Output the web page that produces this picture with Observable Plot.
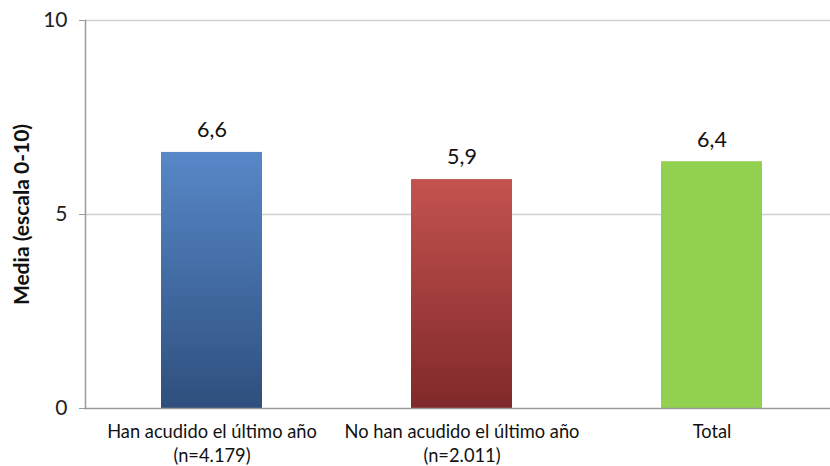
<!DOCTYPE html>
<html>
<head>
<meta charset="utf-8">
<script src="https://cdn.jsdelivr.net/npm/d3@7"></script>
<script src="https://cdn.jsdelivr.net/npm/@observablehq/plot@0.6"></script>
<style>
  html, body { margin: 0; padding: 0; background: #fff; }
  svg { font-family: Lato, "Open Sans", sans-serif; }
</style>
</head>
<body>
<div id="chart"></div>
<script>
const categories = ["Han acudido el último año", "No han acudido el último año", "Total"];
const sampleLabels = ["(n=4.179)", "(n=2.011)", ""];
const values = [6.6, 5.9, 6.36];
const fills = ["url(#gBlue)", "url(#gRed)", "#92d050"];
const yTicks = [0, 5, 10];

const data = categories.map((c, i) => ({cat: c, value: values[i], fill: fills[i]}));
const xLabel = new Map(categories.map((c, i) => [c, sampleLabels[i] ? c + "\n" + sampleLabels[i] : c]));
const fmt = v => (Math.round(v * 10) / 10).toFixed(1).replace(".", ",");

function defs() {
  const ns = "http://www.w3.org/2000/svg";
  const d = document.createElementNS(ns, "defs");
  const grads = [["gBlue", "#5788c8", "#2e4f7d"], ["gRed", "#c3534f", "#80292a"]];
  for (const [id, top, bot] of grads) {
    const g = document.createElementNS(ns, "linearGradient");
    g.setAttribute("id", id);
    g.setAttribute("x1", "0"); g.setAttribute("y1", "0");
    g.setAttribute("x2", "0"); g.setAttribute("y2", "1");
    for (const [off, col] of [["0", top], ["1", bot]]) {
      const s = document.createElementNS(ns, "stop");
      s.setAttribute("offset", off);
      s.setAttribute("stop-color", col);
      g.appendChild(s);
    }
    d.appendChild(g);
  }
  return d;
}

const chart = Plot.plot({
  width: 830,
  height: 466,
  marginLeft: 85,
  marginRight: 0,
  marginTop: 20,
  marginBottom: 58,
  style: {fontFamily: "Lato, 'Open Sans', sans-serif", background: "#fff"},
  x: {domain: categories, paddingInner: 0.597, paddingOuter: 0.2855, align: 0.524, label: null},
  y: {domain: [0, 10], label: null},
  color: {type: "identity"},
  marks: [
    defs,
    Plot.ruleY(yTicks.filter(t => t > 0), {stroke: "#d0d0d0", strokeWidth: 1.5, strokeOpacity: 1}),
    Plot.barY(data, {x: "cat", y: "value", fill: "fill"}),
    Plot.ruleY([0], {stroke: "#9a9a9a", strokeWidth: 1.5}),
    Plot.frame({anchor: "left", stroke: "#9a9a9a", strokeWidth: 1.5}),
    Plot.axisY({ticks: yTicks, tickSize: 6, tickPadding: 12, fontSize: 21, stroke: "#9a9a9a", color: "#222", label: null}),
    Plot.axisX({tickSize: 0, tickPadding: 13, fontSize: 18.3, lineHeight: 1.28, tickFormat: d => xLabel.get(d), color: "#111", label: null}),
    Plot.text(data, {x: "cat", y: "value", text: d => fmt(d.value), dy: -22, fontSize: 21.5, fill: "#111"}),
    Plot.text(["Media (escala 0-10)"], {frameAnchor: "left", dx: -63, rotate: -90, textAnchor: "middle", fontSize: 21, fontWeight: "bold", fill: "#111"})
  ]
});
document.getElementById("chart").appendChild(chart);
</script>
</body>
</html>
